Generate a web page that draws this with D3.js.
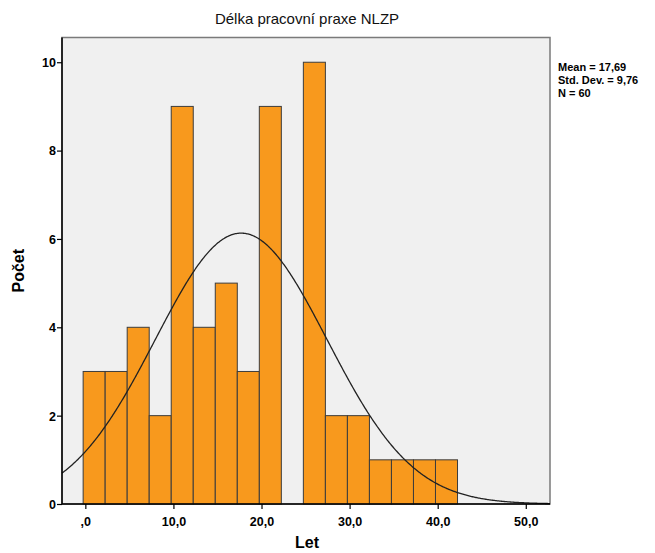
<!DOCTYPE html>
<html>
<head>
<meta charset="utf-8">
<script src="https://cdn.jsdelivr.net/npm/d3@7"></script>
<style>
  body { margin: 0; background: #fff; }
  svg { display: block; }
  text { font-family: "Liberation Sans Narrow", "Arial Narrow", "Liberation Sans", Arial, sans-serif; }
</style>
</head>
<body>
<svg width="655" height="553"></svg>
<script>
// histogram bins (left edges, years) and counts
const binEdges = [-0.25, 2.25, 4.75, 7.25, 9.75, 12.25, 14.75, 17.25, 19.75, 22.25, 24.75, 27.25, 29.75, 32.25, 34.75, 37.25, 39.75, 42.25];
const counts = [3, 3, 4, 2, 9, 4, 5, 3, 9, 0, 10, 2, 2, 1, 1, 1, 1];
const xTicks = [0, 10, 20, 30, 40, 50];
const xTickLabels = [",0", "10,0", "20,0", "30,0", "40,0", "50,0"];
const yTicks = [0, 2, 4, 6, 8, 10];
const stats = { mean: 17.69, sd: 9.76, n: 60 };
const statLines = ["Mean = 17,69", "Std. Dev. = 9,76", "N = 60"];

let svg = d3.select("svg");
const plotL = 62, plotR = 550, plotT = 37.5, plotB = 504;

let x = d3.scaleLinear().domain([-2.65, 52.75]).range([plotL, plotR]);
let y = d3.scaleLinear().domain([0, 10.56]).range([plotB, plotT]);

// plot background
svg.append("rect")
    .attr("x", plotL).attr("y", plotT)
    .attr("width", plotR - plotL).attr("height", plotB - plotT)
    .attr("fill", "#f0f0f0")
    .attr("stroke", "#7a7a7a")
    .attr("stroke-width", 1.5);

// bars
let bins = counts.map(function (c, i) {
    return { x0: binEdges[i], x1: binEdges[i + 1], count: c };
}).filter(function (d) { return d.count > 0; });

svg.append("g")
    .selectAll("rect")
    .data(bins)
    .enter().append("rect")
    .attr("x", function (d) { return x(d.x0); })
    .attr("y", function (d) { return y(d.count); })
    .attr("width", function (d) { return x(d.x1) - x(d.x0); })
    .attr("height", function (d) { return y(0) - y(d.count); })
    .attr("fill", "#f8991d")
    .attr("stroke", "#3c3c3c")
    .attr("stroke-width", 1);

// normal curve from the stated mean / sd
const binWidth = binEdges[1] - binEdges[0];
let curveXs = d3.range(x.domain()[0], x.domain()[1] + 0.001, 0.1);
let normal = function (v) {
    let z = (v - stats.mean) / stats.sd;
    return stats.n * binWidth / (stats.sd * Math.sqrt(2 * Math.PI)) * Math.exp(-0.5 * z * z);
};
svg.append("path")
    .datum(curveXs)
    .attr("fill", "none")
    .attr("stroke", "#222")
    .attr("stroke-width", 1.3)
    .attr("d", d3.line()
        .x(function (d) { return x(d); })
        .y(function (d) { return y(normal(d)); }));

// axes
let xAxis = svg.append("g")
    .attr("transform", "translate(0," + plotB + ")")
    .call(d3.axisBottom(x).tickValues(xTicks).tickSize(5).tickFormat(function (d, i) { return xTickLabels[i]; }));
let yAxis = svg.append("g")
    .attr("transform", "translate(" + plotL + ",0)")
    .call(d3.axisLeft(y).tickValues(yTicks).tickSize(5).tickFormat(d3.format("d")));

[xAxis, yAxis].forEach(function (a) {
    a.select(".domain").remove();
    a.selectAll("line").attr("stroke", "#000").attr("stroke-width", 1.2);
    a.selectAll("text")
        .attr("fill", "#000")
        .style("font-size", "12.5px")
        .style("font-weight", "bold");
});
xAxis.selectAll("text").attr("dy", "1.1em");
yAxis.selectAll("text").attr("dy", "0.35em").attr("x", -6);

// axis lines
svg.append("line")
    .attr("x1", plotL).attr("x2", plotR)
    .attr("y1", plotB).attr("y2", plotB)
    .attr("stroke", "#000").attr("stroke-width", 1.5);
svg.append("line")
    .attr("x1", plotL).attr("x2", plotL)
    .attr("y1", plotT).attr("y2", plotB)
    .attr("stroke", "#000").attr("stroke-width", 1.5);

// titles
svg.append("text")
    .attr("x", (plotL + plotR) / 2 + 1).attr("y", 24)
    .attr("text-anchor", "middle")
    .style("font-family", "'Liberation Sans', Arial, sans-serif")
    .style("font-size", "15px")
    .attr("fill", "#111")
    .text("Délka pracovní praxe NLZP");

svg.append("text")
    .attr("x", (plotL + plotR) / 2 + 1).attr("y", 548)
    .attr("text-anchor", "middle")
    .style("font-family", "'Liberation Sans', Arial, sans-serif")
    .style("font-size", "16px")
    .style("font-weight", "bold")
    .text("Let");

svg.append("text")
    .attr("transform", "translate(24," + ((plotT + plotB) / 2) + ") rotate(-90)")
    .attr("text-anchor", "middle")
    .style("font-family", "'Liberation Sans', Arial, sans-serif")
    .style("font-size", "16px")
    .style("font-weight", "bold")
    .text("Počet");

// stats box
svg.append("g")
    .selectAll("text")
    .data(statLines)
    .enter().append("text")
    .attr("x", 558)
    .attr("y", function (d, i) { return 71 + i * 13; })
    .style("font-size", "11px")
    .style("font-weight", "bold")
    .text(function (d) { return d; });
</script>
</body>
</html>
